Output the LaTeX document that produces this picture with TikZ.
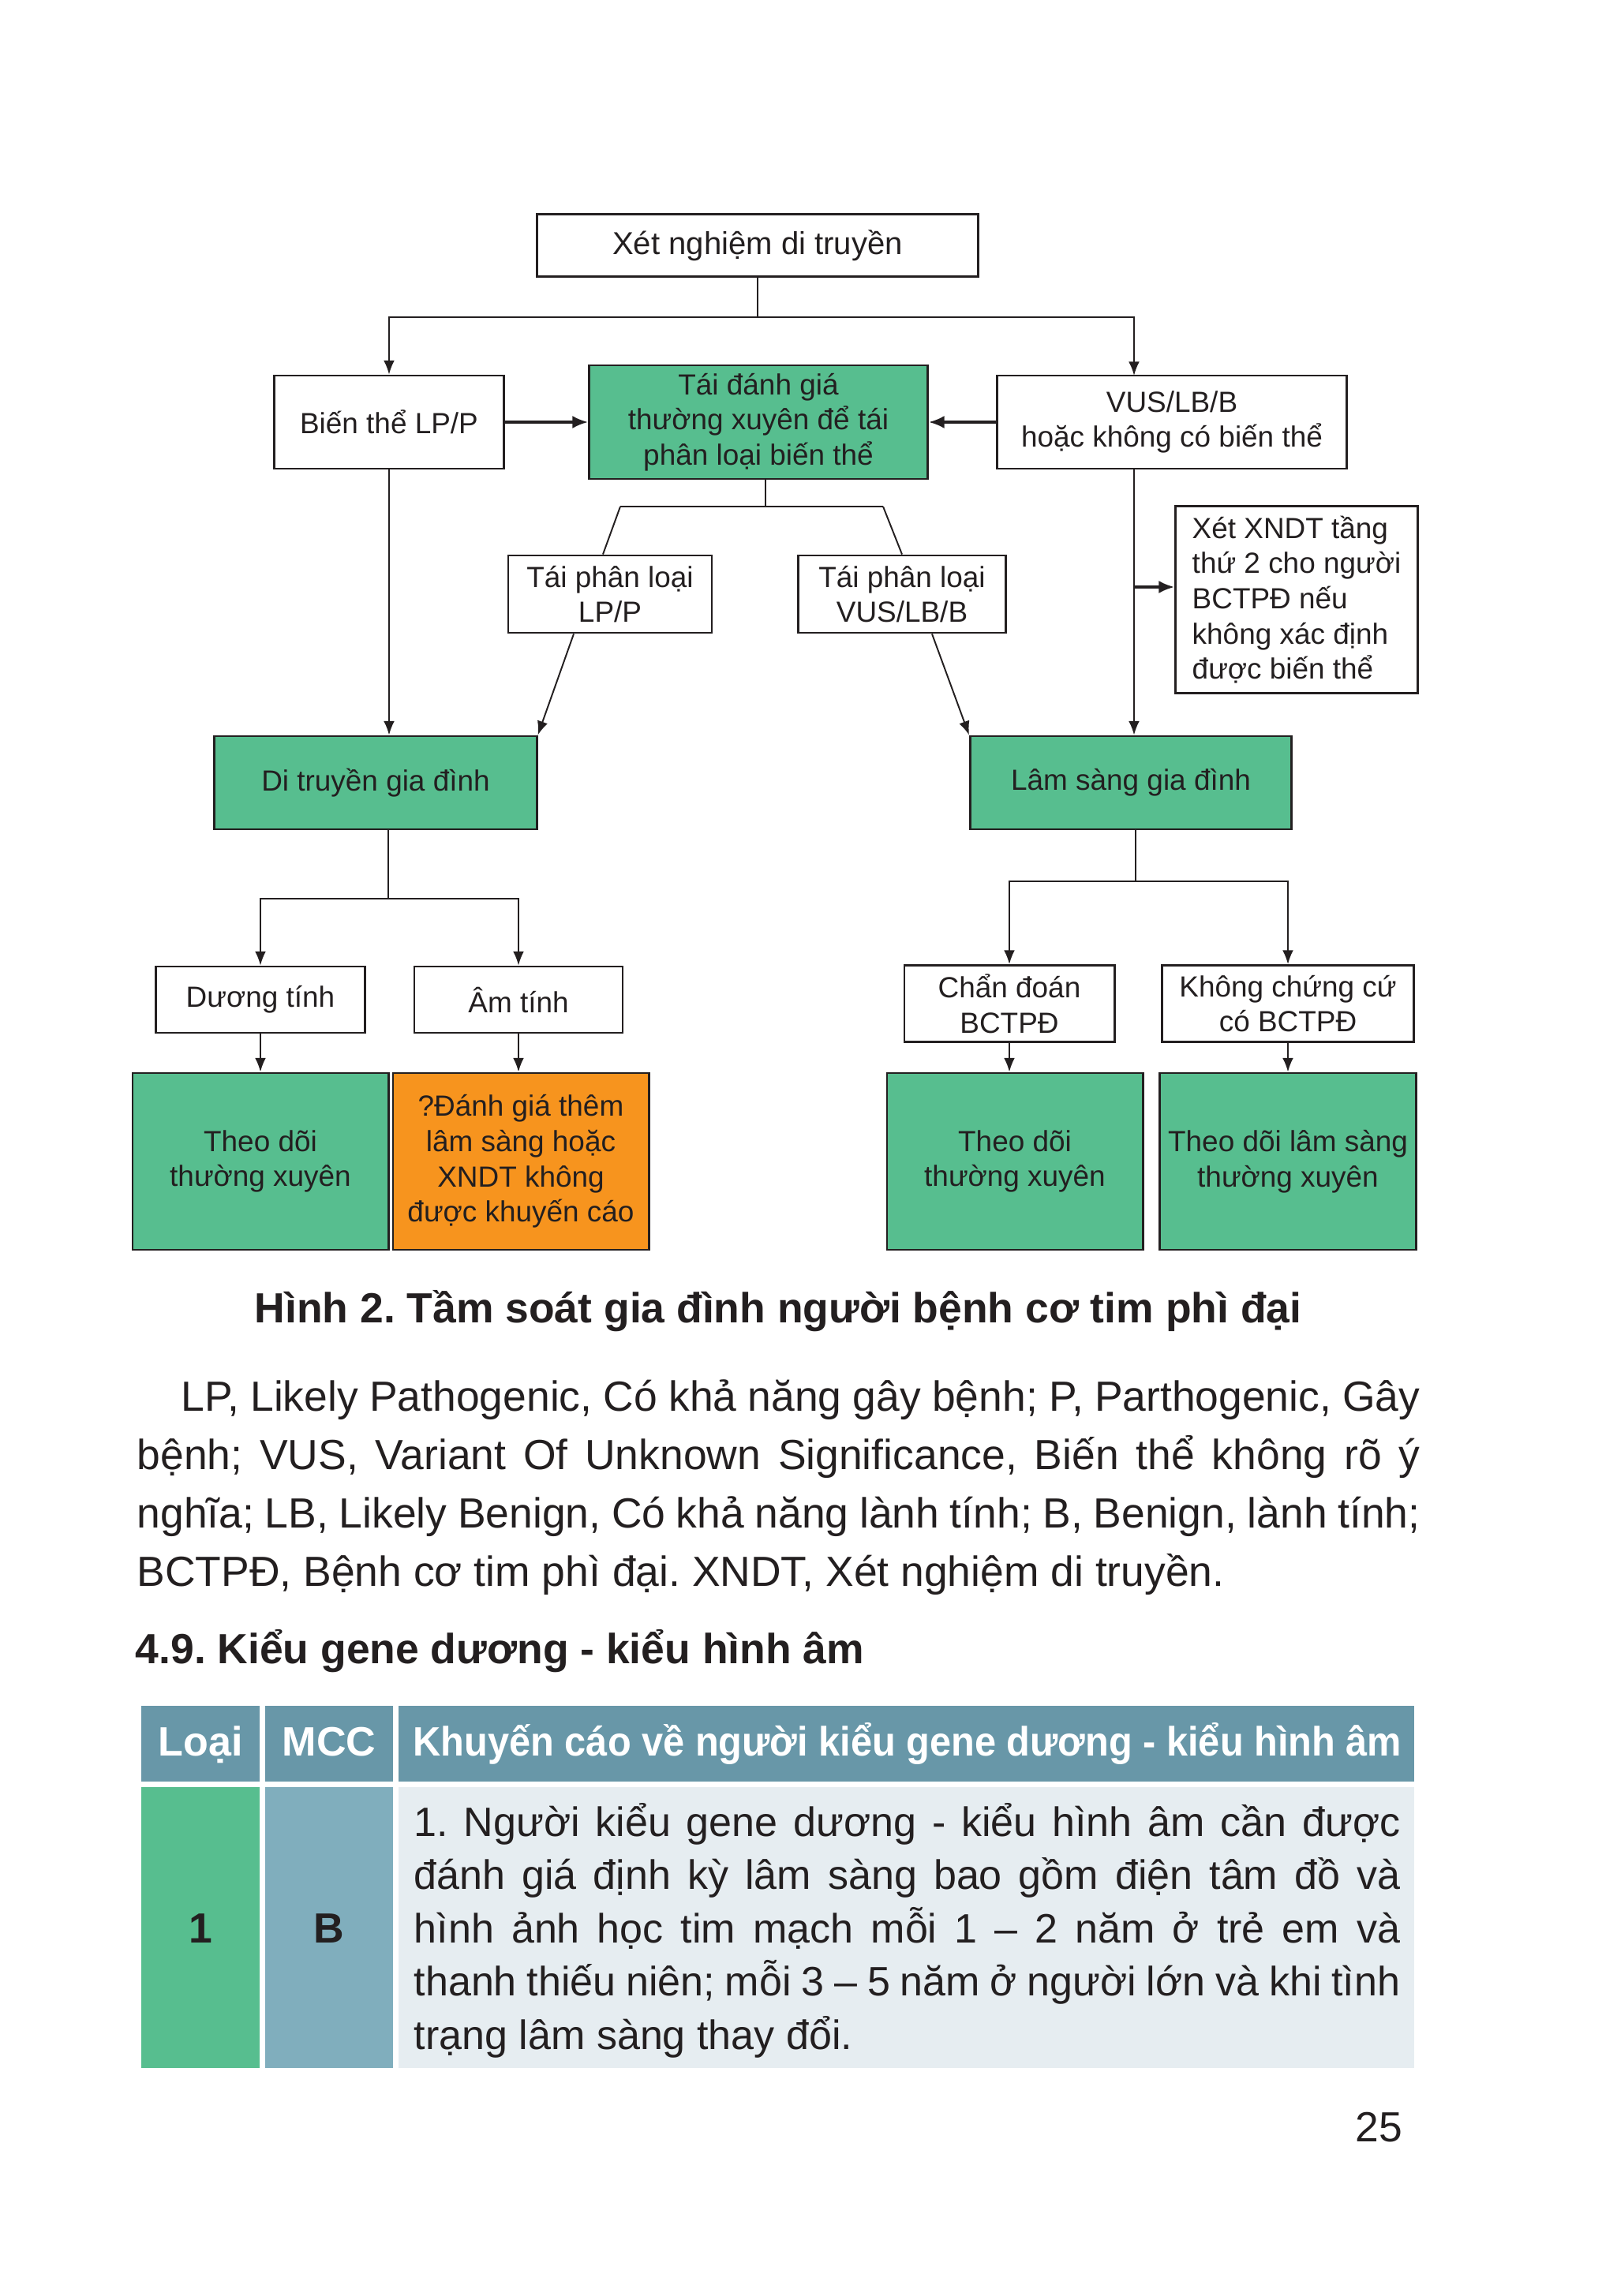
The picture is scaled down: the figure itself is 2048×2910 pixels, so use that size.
\documentclass[tikz,border=0pt]{standalone}
\usepackage{fontspec}
\usepackage{graphicx}
\setmainfont{Liberation Sans}
\frenchspacing
\usetikzlibrary{arrows.meta}
\definecolor{boxgreen}{RGB}{87,190,143}
\definecolor{boxorange}{RGB}{247,148,30}
\definecolor{headblue}{RGB}{104,151,168}
\definecolor{mccblue}{RGB}{128,174,189}
\definecolor{cellgray}{RGB}{230,237,241}
\definecolor{ink}{RGB}{35,31,32}
\begin{document}
\begin{tikzpicture}[x=0.01cm,y=-0.01cm,
    box/.style={draw=ink,line width=0.8pt,align=center,inner sep=0pt,text=ink,
        font=\fontsize{10.5}{12.7}\selectfont},
    fillbox/.style={box,fill=boxgreen},
    link/.style={draw=ink,line width=0.55pt},
    arr/.style={link,-{Latex[length=5pt,width=3.9pt]}},
    bigarr/.style={draw=ink,line width=0.9pt,-{Latex[length=5.6pt,width=4.6pt]}},
    body/.style={text=ink,inner sep=0pt,font=\fontsize{15.2}{21.1}\selectfont},
    head/.style={text=white,inner sep=0pt,font=\bfseries\fontsize{14.8}{18}\selectfont},
    cellbold/.style={text=ink,inner sep=0pt,font=\bfseries\fontsize{15.2}{18}\selectfont}]
    \useasboundingbox (0,0) rectangle (2048,2910);

    \node[box,font=\fontsize{11.4}{13.7}\selectfont,minimum width=5.59cm,minimum height=0.79cm] (test) at (960,311) {Xét nghiệm di truyền};
    \node[box,minimum width=2.91cm,minimum height=1.18cm] (lpp) at (493,535) {Biến thể LP/P};
    \node[fillbox,minimum width=4.29cm,minimum height=1.44cm] (reeval) at (961,535) {Tái đánh giá\\thường xuyên để tái\\phân loại biến thể};
    \node[box,minimum width=4.43cm,minimum height=1.18cm] (vus) at (1485,535) {VUS/LB/B\\hoặc không có biến thể};
    \node[box,minimum width=2.58cm,minimum height=0.98cm] (relpp) at (773,753) {Tái phân loại\\LP/P};
    \node[box,minimum width=2.63cm,minimum height=0.98cm] (revus) at (1143,753) {Tái phân loại\\VUS/LB/B};
    \node[box,align=left,minimum width=3.07cm,minimum height=2.37cm] (tier2) at (1643,760) {Xét XNDT tầng\\thứ 2 cho người\\BCTPĐ nếu\\không xác định\\được biến thể};
    \node[fillbox,minimum width=4.08cm,minimum height=1.18cm] (gen) at (476,992) {Di truyền gia đình};
    \node[fillbox,minimum width=4.07cm,minimum height=1.18cm] (clin) at (1433,992) {Lâm sàng gia đình};
    \node[box,minimum width=2.65cm,minimum height=0.84cm] (pos) at (330,1267) {Dương tính};
    \node[box,minimum width=2.64cm,minimum height=0.84cm] (neg) at (657,1267) {Âm tính};
    \node[box,minimum width=2.66cm,minimum height=0.97cm] (diag) at (1279,1272) {Chẩn đoán\\BCTPĐ};
    \node[box,minimum width=3.19cm,minimum height=0.97cm] (noev) at (1632,1272) {Không chứng cứ\\có BCTPĐ};
    \node[fillbox,minimum width=3.24cm,minimum height=2.24cm] (watchA) at (330,1472) {Theo dõi\\thường xuyên};
    \node[fillbox,fill=boxorange,minimum width=3.24cm,minimum height=2.24cm] (extra) at (660,1472) {?Đánh giá thêm\\lâm sàng hoặc\\XNDT không\\được khuyến cáo};
    \node[fillbox,minimum width=3.24cm,minimum height=2.24cm] (watchB) at (1286,1472) {Theo dõi\\thường xuyên};
    \node[fillbox,minimum width=3.25cm,minimum height=2.24cm] (watchC) at (1632,1472) {Theo dõi lâm sàng\\thường xuyên};

    \coordinate (splitA) at (960,402);
    \coordinate (vusTop) at (1437,476);
    \draw[link] (test) -- (splitA);
    \draw[arr] (splitA) -| (lpp);
    \draw[arr] (splitA) -| (vusTop);
    \draw[bigarr] (lpp) -- (reeval);
    \draw[bigarr] (vus) -- (reeval);

    \coordinate (splitB) at (970,642);
    \coordinate (barL) at (786,642);
    \coordinate (barR) at (1119,642);
    \draw[link] (reeval.south -| splitB) -- (splitB);
    \draw[link] (barL) -- (barR);
    \draw[link] (barL) -- ([shift={(-9,0)}]relpp.north);
    \draw[link] (barR) -- (revus.north);
    \draw[arr] ([shift={(-46,0)}]relpp.south) -- (gen.north east);
    \draw[arr] ([shift={(38,0)}]revus.south) -- (clin.north west);
    \draw[arr] (lpp) -- (lpp |- gen.north);
    \draw[arr] (vus.south -| vusTop) -- (vusTop |- clin.north);
    \coordinate (tap) at (1437,744);
    \draw[bigarr] (tap) -- (tap -| tier2.west);

    \coordinate (splitC) at (492,1139);
    \draw[link] (gen.south -| splitC) -- (splitC);
    \draw[arr] (splitC) -| (pos);
    \draw[arr] (splitC) -| (neg);
    \draw[arr] (pos) -- (pos |- watchA.north);
    \draw[arr] (neg) -- (neg |- extra.north);
    \coordinate (splitD) at (1439,1117);
    \draw[link] (clin.south -| splitD) -- (splitD);
    \draw[arr] (splitD) -| (diag);
    \draw[arr] (splitD) -| (noev);
    \draw[arr] (diag) -- (diag |- watchB.north);
    \draw[arr] (noev) -- (noev |- watchC.north);

    \node[cellbold,anchor=base] (caption) at (986,1676) {Hình 2. Tầm soát gia đình người bệnh cơ tim phì đại};
    \node[body,text width=16.25cm,align=justify,anchor=base west] (legend) at (173,1788) {\hspace*{0.56cm}LP, Likely Pathogenic, Có khả năng gây bệnh; P, Parthogenic, Gây\linebreak bệnh; VUS, Variant Of Unknown Significance, Biến thể không rõ ý\linebreak nghĩa; LB, Likely Benign, Có khả năng lành tính; B, Benign, lành tính;\linebreak BCTPĐ, Bệnh cơ tim phì đại. XNDT, Xét nghiệm di truyền.};
    \node[cellbold,anchor=base west] (section) at (171,2108) {4.9. Kiểu gene dương - kiểu hình âm};

    \fill[headblue] (179,2162) rectangle (329,2258);
    \fill[headblue] (336,2162) rectangle (498,2258);
    \fill[headblue] (505,2162) rectangle (1792,2258);
    \fill[boxgreen] (179,2265) rectangle (329,2621);
    \fill[mccblue] (336,2265) rectangle (498,2621);
    \fill[cellgray] (505,2265) rectangle (1792,2621);
    \node[head,anchor=base] (hclass) at (254,2225) {Loại};
    \node[head,anchor=base] (hlevel) at (417,2225) {MCC};
    \node[head,anchor=base west] (hrec) at (523,2225) {\scalebox{0.936}[1]{Khuyến cáo về người kiểu gene dương - kiểu hình âm}};
    \node[cellbold,anchor=base] (vclass) at (254,2462) {1};
    \node[cellbold,anchor=base] (vlevel) at (417,2462) {B};
    \node[body,font=\fontsize{14.8}{19.2}\selectfont,text width=12.49cm,align=justify,anchor=base west] (rec) at (524,2327) {1. Người kiểu gene dương - kiểu hình âm cần được\linebreak đánh giá định kỳ lâm sàng bao gồm điện tâm đồ và\linebreak hình ảnh học tim mạch mỗi 1 – 2 năm ở trẻ em và\linebreak thanh thiếu niên; mỗi 3 – 5 năm ở người lớn và khi tình\linebreak trạng lâm sàng thay đổi.};
    \node[body,anchor=base east] (page) at (1778,2714) {25};
\end{tikzpicture}
\end{document}
